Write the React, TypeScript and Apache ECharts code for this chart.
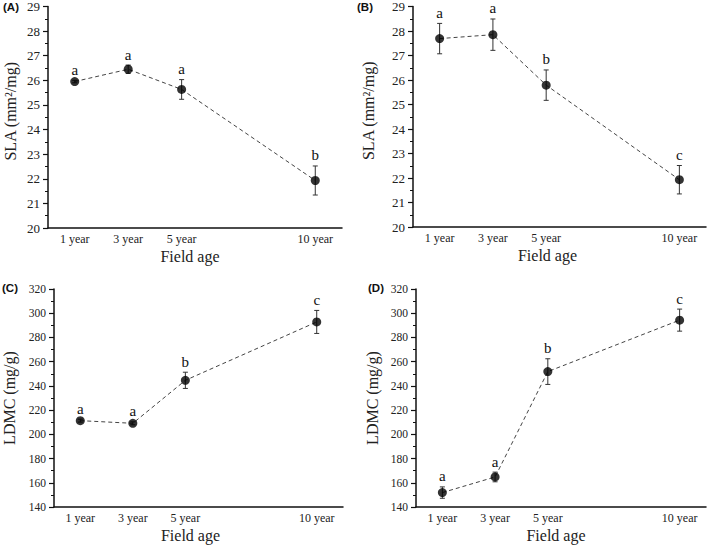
import React, { useEffect, useRef } from "react";
import * as echarts from "echarts";

const ages = [1, 3, 5, 10];
const ageLabels = ["1 year", "3 year", "5 year", "10 year"];

const slaA = [25.95, 26.45, 25.63, 21.93];
const slaAErr = [0.05, 0.17, 0.4, 0.59];
const slaALetters = ["a", "a", "a", "b"];

const slaB = [27.69, 27.85, 25.79, 21.93];
const slaBErr = [0.62, 0.64, 0.62, 0.58];
const slaBLetters = ["a", "a", "b", "c"];

const ldmcC = [211.3, 209.1, 244.6, 292.8];
const ldmcCErr = [1.2, 1.2, 6.7, 9.5];
const ldmcCLetters = ["a", "a", "b", "c"];

const ldmcD = [151.9, 164.8, 251.8, 294.3];
const ldmcDErr = [4.7, 4.0, 10.6, 9.1];
const ldmcDLetters = ["a", "a", "b", "c"];

const panelLabels = ["(A)", "(B)", "(C)", "(D)"];
const slaTitle = "SLA (mm²/mg)";
const ldmcTitle = "LDMC (mg/g)";
const xTitle = "Field age";

const SERIF = "'Liberation Serif', 'DejaVu Serif', serif";

export default function App() {
  const ref = useRef<HTMLDivElement>(null);
  useEffect(() => {
    if (!ref.current) return;
    const chart = echarts.init(ref.current, null, { renderer: "svg" });

    const grids = [
      { left: 48, top: 5, width: 294, height: 223 },
      { left: 413, top: 5, width: 294, height: 222 },
      { left: 53, top: 289, width: 290, height: 218 },
      { left: 416, top: 289, width: 290, height: 218 },
    ];
    const panels = [
      { vals: slaA, errs: slaAErr, letters: slaALetters, min: 20, max: 29, interval: 1, title: slaTitle, nameGap: 30, xPad: 10, yPad: 12, tickFont: 13 },
      { vals: slaB, errs: slaBErr, letters: slaBLetters, min: 20, max: 29, interval: 1, title: slaTitle, nameGap: 37, xPad: 24, yPad: 12, tickFont: 13 },
      { vals: ldmcC, errs: ldmcCErr, letters: ldmcCLetters, min: 140, max: 320, interval: 20, title: ldmcTitle, nameGap: 37, xPad: 16, yPad: 0, tickFont: 11.5 },
      { vals: ldmcD, errs: ldmcDErr, letters: ldmcDLetters, min: 140, max: 320, interval: 20, title: ldmcTitle, nameGap: 36, xPad: 10, yPad: 0, tickFont: 11.5 },
    ];

    const xAxis = panels.map((p, i) => ({
      type: "value",
      gridIndex: i,
      min: 0,
      max: 11,
      interval: 1,
      name: xTitle,
      nameLocation: "middle",
      nameGap: 20,
      nameTextStyle: { fontFamily: SERIF, fontSize: 16, color: "#222", padding: [0, p.xPad, 0, 0] },
      axisLine: { show: true, lineStyle: { color: "#111", width: 1.5 } },
      axisTick: { show: false },
      splitLine: { show: false },
      axisLabel: {
        fontFamily: SERIF,
        fontSize: 12,
        color: "#222",
        margin: 5,
        formatter: (v: number) => {
          const k = ages.indexOf(Math.round(v));
          return k >= 0 && Math.abs(v - ages[k]) < 1e-6 ? ageLabels[k] : "";
        },
      },
    }));

    const yAxis = panels.map((p, i) => ({
      type: "value",
      gridIndex: i,
      min: p.min,
      max: p.max,
      interval: p.interval,
      name: p.title,
      nameLocation: "middle",
      nameGap: p.nameGap,
      nameTextStyle: { fontFamily: SERIF, fontSize: 16, color: "#222", padding: [0, 0, 0, p.yPad] },
      axisLine: { show: true, lineStyle: { color: "#111", width: 1.5 } },
      axisTick: { show: true, inside: false, length: 5, lineStyle: { color: "#111", width: 1.2 } },
      minorTick: { show: true, splitNumber: 2, length: 3, lineStyle: { color: "#111", width: 1 } },
      splitLine: { show: false },
      minorSplitLine: { show: false },
      axisLabel: { fontFamily: SERIF, fontSize: p.tickFont, color: "#222", margin: 8 },
    }));

    const series: any[] = [];
    panels.forEach((p, i) => {
      const pts = ages.map((a, k) => [a, p.vals[k]]);
      series.push({
        type: "line",
        xAxisIndex: i,
        yAxisIndex: i,
        data: pts,
        symbol: "none",
        lineStyle: { color: "#444", width: 1, type: [4, 3] },
        z: 2,
      });
      series.push({
        type: "custom",
        xAxisIndex: i,
        yAxisIndex: i,
        data: ages.map((a, k) => [a, p.vals[k], p.errs[k], k]),
        renderItem: (params: any, api: any) => {
          const x = api.value(0);
          const y = api.value(1);
          const e = api.value(2);
          const k = api.value(3);
          const top = api.coord([x, y + e]);
          const bot = api.coord([x, y - e]);
          const cap = 2.5;
          const st = { stroke: "#333", lineWidth: 1 };
          return {
            type: "group",
            children: [
              { type: "line", shape: { x1: top[0], y1: top[1], x2: bot[0], y2: bot[1] }, style: st },
              { type: "line", shape: { x1: top[0] - cap, y1: top[1], x2: top[0] + cap, y2: top[1] }, style: st },
              { type: "line", shape: { x1: bot[0] - cap, y1: bot[1], x2: bot[0] + cap, y2: bot[1] }, style: st },
              {
                type: "text",
                x: top[0],
                y: top[1] - 3,
                style: {
                  text: p.letters[k],
                  fill: "#111",
                  font: `15px ${SERIF}`,
                  align: "center",
                  verticalAlign: "bottom",
                },
              },
            ],
          };
        },
        z: 3,
      });
      series.push({
        type: "scatter",
        xAxisIndex: i,
        yAxisIndex: i,
        data: pts,
        symbol: "circle",
        symbolSize: 9,
        itemStyle: { color: "#000" },
        z: 4,
      });
    });

    const labelPos = [
      { x: 3, y: 8 },
      { x: 357, y: 8 },
      { x: 2, y: 289 },
      { x: 368, y: 289 },
    ];

    chart.setOption({
      animation: false,
      backgroundColor: "#fff",
      grid: grids,
      xAxis,
      yAxis,
      series,
      graphic: panelLabels.map((t, i) => ({
        type: "text",
        left: labelPos[i].x,
        top: labelPos[i].y - 7,
        style: { text: t, font: "bold 11.5px 'Liberation Sans', Arial, sans-serif", fill: "#111" },
      })),
    });
    return () => chart.dispose();
  }, []);
  return (
    <div
      ref={ref}
      style={{ position: "fixed", left: 0, top: 0, width: 709, height: 547, background: "#fff" }}
    />
  );
}
